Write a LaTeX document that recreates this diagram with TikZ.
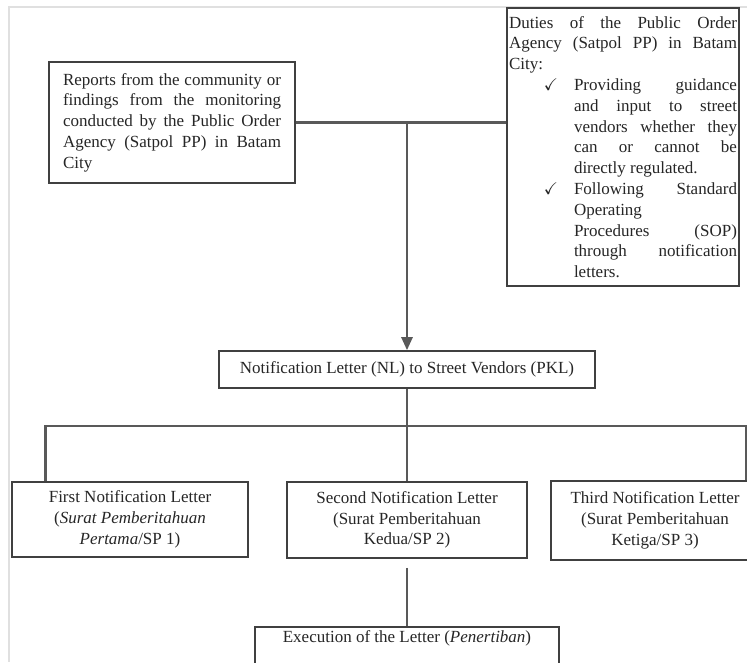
\documentclass[tikz,border=0pt]{standalone}
\usepackage{amssymb}
\usepackage{fontspec}
\setmainfont{Liberation Serif}
\usetikzlibrary{arrows.meta, positioning}
\tikzset{
    link/.style = {draw=black!65, line width=2.6pt},
    arr/.style = {-{Triangle[width=11pt,length=13pt]}},
    box/.style = {rectangle, draw=black!75, line width=1.6pt, fill=white, inner ysep=2pt, text=black!85},
    frame/.style = {draw=black!12, line width=1.4pt}
}
\newcommand{\chkitem}{\par\noindent\hangindent=65pt\hangafter=0\llap{$\checkmark$\hspace{16pt}}}

\begin{document}
\begin{tikzpicture}
  [x=1pt, y=-1pt, every node/.style={font=\fontsize{17}{20.8}\selectfont}]

  \useasboundingbox (0,0) rectangle (747,662);
  \draw[frame] (9,662) -- (9,7) -- (747,7);

  \node[box, text width=218pt, inner xsep=14pt, minimum height=121pt, align=justify] (rep) at (172,122.5)
    {Reports from the community or findings from the monitoring conducted by the Public Order Agency (Satpol PP) in Batam City};
  \node[box, text width=228pt, inner xsep=2pt, minimum height=278pt, align=justify] (duty) at (623,147)
    {Duties of the Public Order Agency (Satpol PP) in Batam City:
    \chkitem Providing guidance\linebreak and input to street\linebreak vendors whether they\linebreak can or cannot be\linebreak directly regulated.
    \chkitem Following Standard\linebreak Operating\linebreak Procedures (SOP)\linebreak through notification\linebreak letters.\par};
  \node[box, minimum width=376pt, minimum height=37pt] (nl) at (407,369.5) {Notification Letter (NL) to Street Vendors (PKL)};
  \node[box, minimum width=236pt, minimum height=75pt, align=center] (sp1) at (130,519.5)
    {First Notification Letter\\(\textit{Surat Pemberitahuan}\\\textit{Pertama}/SP 1)};
  \node[box, minimum width=240pt, minimum height=76pt, align=center] (sp2) at (407,520)
    {Second Notification Letter\\(Surat Pemberitahuan\\Kedua/SP 2)};
  \node[box, minimum width=208pt, minimum height=79pt, align=center] (sp3) at (655,520.5)
    {Third Notification Letter\\(Surat Pemberitahuan\\Ketiga/SP 3)};
  \node[box, minimum width=304pt, text height=12pt, text depth=28pt, inner ysep=4pt, anchor=north] (exe) at (407,626)
    {Execution of the Letter (\textit{Penertiban})};

  \coordinate (split) at (407,426);
  \draw[link, arr] (rep.east -| nl.north) -- (nl.north);
  \draw[link] (rep.east) -- (duty.west |- rep.east);
  \draw[link] (nl.south) -- (sp2.north);
  \draw[link] ([xshift=34pt]sp1.north west) |- (split) -| ([xshift=-14pt]sp3.north east);
  \draw[link, shorten <=9pt] (sp2.south) -- (exe.north);
\end{tikzpicture}
\end{document}
